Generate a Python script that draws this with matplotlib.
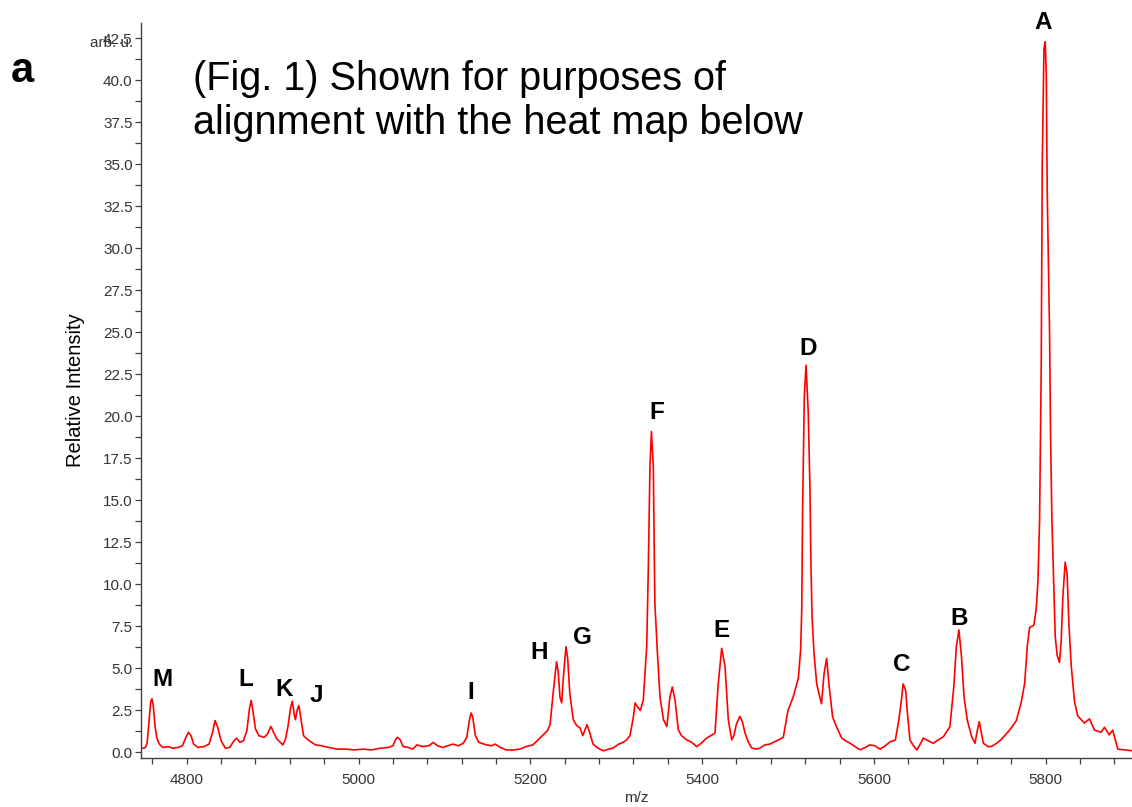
import numpy as np
import matplotlib
matplotlib.use("Agg")
import matplotlib.pyplot as plt
from matplotlib.ticker import MultipleLocator, FormatStrFormatter

plt.rcParams['font.family'] = ['Liberation Sans', 'DejaVu Sans']

# traced spectrum (m/z, relative intensity)
mz = [4749, 4752, 4754, 4756, 4758, 4759.5, 4761, 4763, 4765, 4768, 4772, 4778, 4784, 4790,
      4795, 4799, 4802, 4805, 4808, 4813, 4820, 4826, 4830, 4833, 4836, 4840, 4845, 4850,
      4855, 4858, 4862, 4866, 4870, 4873, 4875, 4877, 4880, 4884, 4890, 4894, 4898, 4901,
      4905, 4909, 4912, 4915, 4918, 4921, 4923, 4925, 4926.5, 4928.5, 4930.5, 4933, 4936,
      4940, 4944, 4950, 4957, 4965, 4975, 4985, 4995, 5005, 5015, 5025, 5035, 5040, 5043,
      5045, 5048, 5052, 5058, 5063, 5068, 5075, 5082, 5087, 5092, 5098, 5104, 5110, 5116,
      5122, 5126, 5129, 5131, 5133, 5136, 5140, 5149, 5155, 5159, 5165, 5172, 5180, 5188,
      5195, 5203, 5210, 5215, 5220, 5223, 5226.5, 5230.5, 5232.5, 5234.5, 5236.5, 5238.5,
      5241.5, 5243.5, 5246, 5250, 5254, 5258, 5261, 5264, 5266, 5269, 5273, 5279, 5285,
      5291, 5296, 5303, 5308, 5312, 5316, 5320, 5322, 5325, 5328, 5331.5, 5335.5, 5337.4,
      5339.3, 5341, 5343.2, 5345, 5348, 5351, 5355, 5359, 5362.5, 5365.3, 5368.5, 5372.3,
      5376, 5382, 5388, 5393.7, 5399, 5405, 5410, 5415, 5418.8, 5422.8, 5426.7, 5430.5,
      5434.5, 5437, 5440, 5444, 5447, 5450, 5454, 5457.7, 5463, 5467, 5473, 5479, 5487,
      5494.5, 5500, 5506, 5512, 5514.7, 5516, 5517, 5519, 5521, 5523.6, 5525.6, 5526.8,
      5528, 5530.3, 5533.4, 5537, 5539, 5542, 5545, 5548, 5552, 5556.7, 5562.5, 5567, 5572,
      5578, 5584, 5590, 5595, 5601, 5607, 5612, 5619, 5625, 5629, 5632, 5634, 5637, 5639,
      5642, 5646, 5650, 5654, 5657.6, 5663, 5669, 5675, 5681, 5688.5, 5693, 5696, 5699,
      5702, 5705, 5708.7, 5713.8, 5717.7, 5720, 5722.7, 5725, 5727.4, 5733, 5737, 5743,
      5748.4, 5754, 5758, 5765.8, 5771.6, 5775.5, 5778.6, 5781.3, 5786.3, 5789, 5791,
      5792.9, 5794.8, 5796, 5798, 5799.5, 5800.7, 5801.8, 5804.5, 5805.7, 5807.2, 5809.2,
      5811.1, 5813.4, 5816.1, 5818, 5820, 5822.7, 5825, 5827, 5829.7, 5833.6, 5837.4, 5845,
      5851, 5856.8, 5864.5, 5868.4, 5874, 5878, 5884, 5892, 5901]
intensity = [0.25, 0.3, 0.6, 1.8, 3.0, 3.2, 2.8, 1.6, 0.9, 0.5, 0.3, 0.35, 0.25, 0.3,
             0.4, 0.9, 1.2, 1.0, 0.5, 0.3, 0.35, 0.5, 1.2, 1.9, 1.5, 0.7, 0.25, 0.3,
             0.7, 0.85, 0.6, 0.7, 1.3, 2.6, 3.1, 2.5, 1.4, 1.0, 0.9, 1.1, 1.55, 1.2,
             0.8, 0.6, 0.45, 0.8, 1.6, 2.7, 3.05, 2.3, 1.95, 2.5, 2.8, 2.0, 1.0,
             0.8, 0.65, 0.45, 0.4, 0.3, 0.2, 0.2, 0.15, 0.2, 0.15, 0.25, 0.3, 0.4, 0.75,
             0.9, 0.8, 0.35, 0.3, 0.2, 0.45, 0.35, 0.4, 0.6, 0.4, 0.3, 0.4, 0.5, 0.4,
             0.55, 0.9, 1.9, 2.35, 2.1, 1.0, 0.6, 0.45, 0.4, 0.5, 0.3, 0.15, 0.15, 0.2,
             0.35, 0.45, 0.8, 1.05, 1.3, 1.65, 3.5, 5.4, 4.8, 3.3, 2.95, 4.5,
             6.3, 5.6, 3.5, 1.95, 1.6, 1.45, 1.0, 1.4, 1.65, 1.2, 0.5, 0.25, 0.1,
             0.2, 0.25, 0.5, 0.6, 0.75, 1.0, 2.1, 2.95, 2.7, 2.5, 3.1, 6.3, 11.0,
             17.0, 19.1, 17.0, 8.9, 5.9, 3.3, 1.95, 1.55, 3.3, 3.9, 3.1, 1.35,
             1.0, 0.75, 0.6, 0.35, 0.55, 0.85, 1.0, 1.15, 4.1, 6.2, 5.1, 1.95,
             0.75, 1.0, 1.7, 2.15, 1.8, 1.15, 0.6, 0.27, 0.2, 0.25, 0.45, 0.5, 0.7,
             0.9, 2.5, 3.3, 4.4, 6.1, 8.5, 14.4, 21.2, 23.05, 20.2, 15.6, 11.0,
             8.1, 5.9, 4.1, 3.3, 2.9, 4.7, 5.6, 3.9, 2.1, 1.5, 0.86, 0.7, 0.56,
             0.35, 0.16, 0.3, 0.45, 0.4, 0.2, 0.35, 0.64, 0.74, 1.93, 3.1, 4.08, 3.7, 2.35,
             0.74, 0.4, 0.15, 0.5, 0.86, 0.7, 0.55, 0.75, 0.94, 1.54, 3.9, 6.3, 7.3,
             5.7, 3.3, 1.93, 0.94, 0.55, 1.2, 1.83, 1.2, 0.55, 0.35, 0.36, 0.55,
             0.78, 1.1, 1.33, 1.89, 3.0, 4.1, 6.33, 7.44, 7.58, 8.55, 10.2,
             13.8, 22.85, 34.9, 41.9, 42.3, 40.35, 33.4, 25.1, 18.8, 14.0, 10.35,
             6.9, 5.77, 5.36, 6.6, 9.25, 11.33, 10.6, 7.7, 5.2, 3.0, 2.17, 1.75,
             2.0, 1.33, 1.2, 1.5, 1.05, 1.33, 0.2, 0.15, 0.1]

# peak letters and where they sit (m/z, baseline height)
peak_names = ['A', 'B', 'C', 'D', 'E', 'F', 'G', 'H', 'I', 'J', 'K', 'L', 'M']
peak_mz = [5796.5, 5699, 5632.4, 5523.4, 5422.4, 5346.7, 5260.2, 5209.8, 5130.2, 4950.9, 4912.9, 4868.7, 4772.1]
peak_y = [43.05, 7.59, 4.85, 23.66, 6.86, 19.85, 6.46, 5.58, 3.18, 2.98, 3.36, 3.96, 3.96]

fig = plt.figure(figsize=(11.32, 8.07), dpi=100)
ax = fig.add_axes([0.1246, 0.0607, 0.8754, 0.9108])

ax.plot(mz, intensity, color='#ff0000', lw=1.2)

ax.set_xlim(4746.8, 5900.5)
ax.set_ylim(-0.33, 43.42)

ax.xaxis.set_major_locator(MultipleLocator(200))
ax.xaxis.set_minor_locator(MultipleLocator(40))
ax.yaxis.set_major_locator(MultipleLocator(2.5))
ax.yaxis.set_minor_locator(MultipleLocator(1.25))
ax.yaxis.set_major_formatter(FormatStrFormatter('%.1f'))

for s in ['top', 'right']:
    ax.spines[s].set_visible(False)
for s in ['left', 'bottom']:
    ax.spines[s].set_color('#404040')
    ax.spines[s].set_linewidth(1.0)

ax.tick_params(which='both', direction='out', length=4, width=0.9, color='#404040',
               labelsize=11, labelcolor='#333333')
ax.tick_params(axis='y', which='both', pad=2)
ax.tick_params(axis='x', which='both', pad=7)

ax.set_xlabel('m/z', fontsize=11, color='#333333', labelpad=3)
ax.set_ylabel('Relative Intensity', fontsize=14.5, color='#000000', labelpad=13)

for name, x, y in zip(peak_names, peak_mz, peak_y):
    ax.text(x, y, name, ha='center', va='baseline', fontsize=17.5,
            fontweight='bold', clip_on=False)

# "arb. u." sits over the 42.5 label in the original too
fig.text(0.1175, 0.9467, 'arb. u.', ha='right', va='center', fontsize=11, color='#333333')
fig.text(0.020, 0.912, 'a', ha='center', va='center', fontsize=30, fontweight='bold')
fig.text(0.1705, 0.926, '(Fig. 1) Shown for purposes of\nalignment with the heat map below',
         ha='left', va='top', fontsize=28.5)

fig.savefig('out.png', dpi=100)
